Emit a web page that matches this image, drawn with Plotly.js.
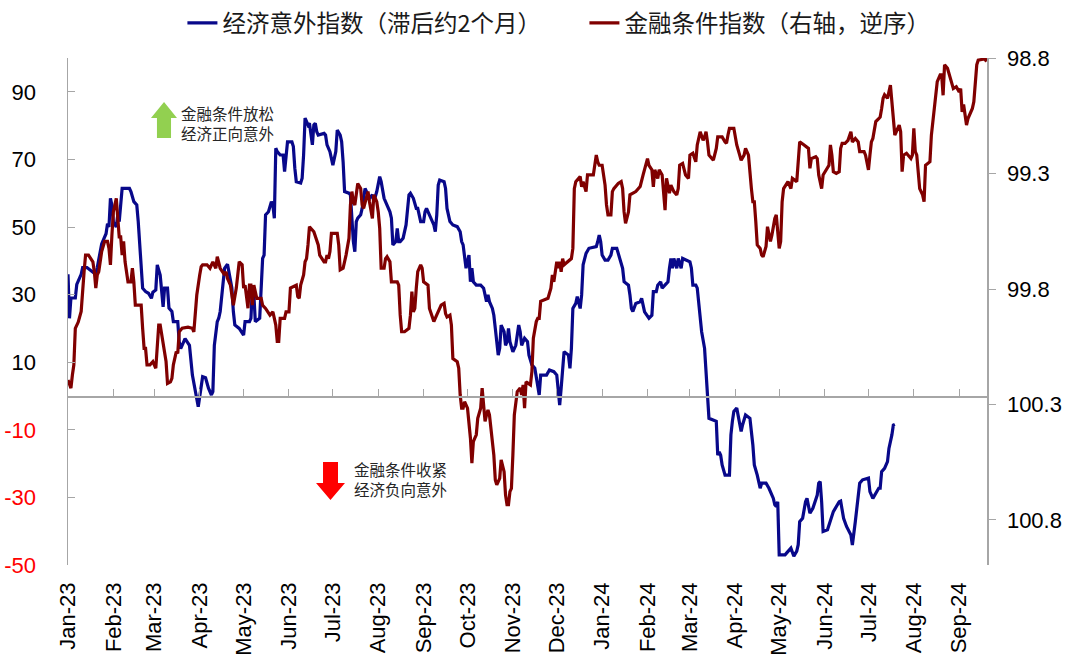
<!DOCTYPE html>
<html>
<head>
<meta charset="utf-8">
<script src="https://cdn.plot.ly/plotly-3.0.1.min.js"></script>
<style>html,body{margin:0;padding:0;background:#fff;}#chart{width:1080px;height:668px;}</style>
</head>
<body>
<div id="chart"></div>
<script>
// 经济意外指数（滞后约2个月） - left axis
const blueDates = [
'2023-01-01','2023-01-02','2023-01-03','2023-01-06','2023-01-07','2023-01-10','2023-01-11','2023-01-14','2023-01-17','2023-01-20','2023-01-21','2023-01-23','2023-01-24','2023-01-27','2023-01-28','2023-01-29','2023-01-30','2023-01-31',
'2023-02-01','2023-02-03','2023-02-04','2023-02-05','2023-02-07','2023-02-12','2023-02-13','2023-02-15','2023-02-17','2023-02-18','2023-02-19','2023-02-21','2023-02-23','2023-02-25','2023-02-27','2023-02-28',
'2023-03-02','2023-03-03','2023-03-05','2023-03-07','2023-03-08','2023-03-10','2023-03-11','2023-03-13','2023-03-14','2023-03-17','2023-03-18','2023-03-19','2023-03-22','2023-03-25','2023-03-27','2023-03-31',
'2023-04-03','2023-04-05','2023-04-07','2023-04-09','2023-04-10','2023-04-11','2023-04-13','2023-04-14','2023-04-15','2023-04-16','2023-04-18','2023-04-20','2023-04-21','2023-04-23','2023-04-24','2023-04-25','2023-04-28',
'2023-05-01','2023-05-02','2023-05-05','2023-05-06','2023-05-07','2023-05-08','2023-05-09','2023-05-12','2023-05-14','2023-05-15','2023-05-16','2023-05-18','2023-05-20','2023-05-21','2023-05-22','2023-05-23','2023-05-24','2023-05-26','2023-05-28','2023-05-29','2023-05-30','2023-05-31',
'2023-06-03','2023-06-04','2023-06-05','2023-06-06','2023-06-09','2023-06-10','2023-06-11','2023-06-12','2023-06-14','2023-06-15','2023-06-17','2023-06-18','2023-06-19','2023-06-20','2023-06-21','2023-06-25','2023-06-26','2023-06-27','2023-06-29','2023-06-30',
'2023-07-01','2023-07-03','2023-07-04','2023-07-06','2023-07-07','2023-07-08','2023-07-09','2023-07-12','2023-07-13','2023-07-14','2023-07-15','2023-07-16','2023-07-17','2023-07-18','2023-07-20','2023-07-21','2023-07-22','2023-07-23','2023-07-25','2023-07-26','2023-07-28','2023-07-29','2023-07-31',
'2023-08-01','2023-08-02','2023-08-03','2023-08-05','2023-08-07','2023-08-09','2023-08-10','2023-08-11','2023-08-13','2023-08-14','2023-08-15','2023-08-16','2023-08-18','2023-08-20','2023-08-22','2023-08-23','2023-08-25','2023-08-27','2023-08-28','2023-08-30',
'2023-09-01','2023-09-02','2023-09-03','2023-09-05','2023-09-07','2023-09-08','2023-09-09','2023-09-10','2023-09-11','2023-09-12','2023-09-15','2023-09-16','2023-09-17','2023-09-18','2023-09-19','2023-09-21','2023-09-24','2023-09-26','2023-09-27','2023-09-28','2023-09-29','2023-09-30',
'2023-10-02','2023-10-03','2023-10-04','2023-10-05','2023-10-07','2023-10-10','2023-10-12','2023-10-14','2023-10-15','2023-10-16','2023-10-18','2023-10-19','2023-10-20','2023-10-21','2023-10-22','2023-10-23','2023-10-24','2023-10-26','2023-10-27','2023-10-28','2023-10-29','2023-10-30',
'2023-11-01','2023-11-03','2023-11-04','2023-11-05','2023-11-06','2023-11-07','2023-11-09','2023-11-11','2023-11-12','2023-11-14','2023-11-16','2023-11-18','2023-11-19','2023-11-20','2023-11-24','2023-11-26','2023-11-29',
'2023-12-01','2023-12-02','2023-12-03','2023-12-04','2023-12-05','2023-12-06','2023-12-09','2023-12-10','2023-12-11','2023-12-12','2023-12-14','2023-12-15','2023-12-17','2023-12-18','2023-12-19','2023-12-21','2023-12-23','2023-12-28','2023-12-29','2023-12-30','2023-12-31',
'2024-01-01','2024-01-03','2024-01-05','2024-01-07','2024-01-08','2024-01-11','2024-01-13','2024-01-14','2024-01-15','2024-01-16','2024-01-19','2024-01-20','2024-01-21','2024-01-22','2024-01-24','2024-01-27','2024-01-28','2024-01-30',
'2024-02-02','2024-02-04','2024-02-05','2024-02-07','2024-02-08','2024-02-10','2024-02-11','2024-02-14','2024-02-15','2024-02-16','2024-02-17','2024-02-18','2024-02-19','2024-02-21','2024-02-22','2024-02-24','2024-02-25',
'2024-03-01','2024-03-02','2024-03-03','2024-03-05','2024-03-06','2024-03-08','2024-03-09','2024-03-11','2024-03-12','2024-03-13','2024-03-14','2024-03-19','2024-03-20','2024-03-21','2024-03-22','2024-03-23','2024-03-25','2024-03-28','2024-03-29','2024-03-30','2024-03-31',
'2024-04-02','2024-04-04','2024-04-05','2024-04-06','2024-04-07','2024-04-08','2024-04-11','2024-04-12','2024-04-13','2024-04-14','2024-04-16','2024-04-18','2024-04-19','2024-04-22','2024-04-24','2024-04-27','2024-04-28','2024-04-29','2024-04-30',
'2024-05-01','2024-05-03','2024-05-05','2024-05-06','2024-05-09','2024-05-11','2024-05-13','2024-05-14','2024-05-15','2024-05-17','2024-05-19','2024-05-20','2024-05-21','2024-05-22','2024-05-24','2024-05-27','2024-05-28','2024-05-29','2024-05-30','2024-05-31',
'2024-06-03','2024-06-05','2024-06-07','2024-06-11','2024-06-12','2024-06-14','2024-06-16','2024-06-19','2024-06-20','2024-06-22','2024-06-24','2024-06-25','2024-06-27',
'2024-07-01','2024-07-02','2024-07-04','2024-07-08','2024-07-09','2024-07-10','2024-07-12','2024-07-14','2024-07-15','2024-07-17','2024-07-18','2024-07-19'
];
const blueValues = [
36,23,29,29,33,36,38,38,37,36,38,42,45,48,51,50,58.5,56.5,
51.5,50,53.6,51.6,61.4,61.4,60.5,57.5,56.5,51.6,45.7,31.9,30.9,30.4,28.9,30.7,
31.4,38.8,35.8,26.4,31.9,31.9,26,25,22,22,16,14,17,15,6.2,-3.2,
5.7,5.4,2.3,0.3,1.3,15,22,23,25,30,37.8,39,36.8,31.9,25,21,20,
18,22,22,23,31.9,30,22,23,40.7,41.7,53.6,54.5,57.5,56.5,52.6,73.3,72.3,71.3,71.3,66.4,70.3,75.2,
75.2,73.8,67.4,63.4,63,64.4,71.3,82.2,80.2,80.7,74.3,80.2,80.7,78.2,77.2,77.7,77.2,74.3,72.3,70.3,
68.3,72.3,78.7,77.2,75.2,69.3,60.5,60,59.5,52.6,45.7,42.7,51.6,52.6,53.6,55.5,59.5,61.4,59.5,58.5,59.5,57.5,60.5,
63.4,64.9,63.4,58.5,56.5,54.5,52.6,44.7,45.7,49.6,45.7,45.7,46.7,50.6,59.5,60,58.5,55.5,55.5,51.6,
51.6,54.5,55.5,53.6,51.6,50.6,48.6,53.6,62.4,63.9,63.4,61.4,55.5,53.6,51.6,50.6,50.1,48.6,45.7,44.7,41.7,37.8,
41.7,33.8,37.8,33.8,32.8,32.8,31.9,27.9,29.9,27.9,25.9,23.9,20,16.1,12.1,14.1,21,19,15,16.1,20,16.1,
13.1,15,18,21,19,15,17.1,16.1,12.1,9.2,8.2,3.3,0.3,6.2,6.2,7.7,7.2,
6.2,2.3,-2.7,2.3,7.2,13.1,12.1,8.2,14.1,25.9,27.4,29.4,25.9,29.9,38.8,42.2,43.7,44.2,45.7,47.6,45.7,
41.7,40.2,40.2,41.7,43.7,43.7,40.7,39.7,37.8,33.8,32.8,29.9,25.9,25,27.4,27.9,28.9,24.9,
23,23.9,30.9,30.9,32.8,33.8,31.9,33.3,33.8,37.8,40.7,37.8,40.7,37.8,40.7,37.8,40.7,
39.7,37.8,32.8,32.8,31.9,22,19,14.1,6.2,2.3,-6.6,-7.5,-17.5,-16.5,-17.5,-20.4,-23.4,-23.4,-11.5,-7.5,-4.6,
-3.6,-7.5,-10.5,-8.5,-6.6,-5.6,-6.6,-10.5,-14.5,-20.4,-23.4,-27.3,-25.8,-25.8,-27.3,-30.3,-32.2,-32.7,-31.3,
-47,-47,-47,-46.5,-45,-47.4,-45.9,-44,-37.2,-36.2,-31.3,-30.3,-32.2,-34.7,-33.2,-29.3,-25.8,-25.3,-31.3,-40.1,
-39.6,-37.2,-34.2,-31.3,-31.1,-36.2,-38.6,-41.1,-44.1,-37.2,-29.3,-25.8,-24.8,
-24.3,-28.3,-30.3,-27.3,-27.3,-22.4,-21.4,-19.4,-15.5,-11.5,-8.6,-8.4
];

// 金融条件指数（右轴，逆序） - right axis, reversed
const redDates = [
'2023-01-01','2023-01-02','2023-01-03','2023-01-04','2023-01-05','2023-01-06','2023-01-08','2023-01-10','2023-01-11','2023-01-12','2023-01-13','2023-01-15','2023-01-18','2023-01-19','2023-01-20','2023-01-21','2023-01-22','2023-01-23','2023-01-24','2023-01-26','2023-01-28','2023-01-29','2023-01-30','2023-01-31',
'2023-02-01','2023-02-03','2023-02-04','2023-02-05','2023-02-06','2023-02-07','2023-02-08','2023-02-09','2023-02-11','2023-02-13','2023-02-14','2023-02-15','2023-02-16','2023-02-20','2023-02-21','2023-02-22','2023-02-23','2023-02-24','2023-02-26','2023-02-28',
'2023-03-02','2023-03-03','2023-03-04','2023-03-05','2023-03-06','2023-03-08','2023-03-09','2023-03-10','2023-03-12','2023-03-13','2023-03-14','2023-03-16','2023-03-17','2023-03-18','2023-03-20','2023-03-24','2023-03-27','2023-03-28','2023-03-29','2023-03-30',
'2023-04-01','2023-04-02','2023-04-03','2023-04-06','2023-04-08','2023-04-10','2023-04-12','2023-04-13','2023-04-15','2023-04-18','2023-04-19','2023-04-20','2023-04-22','2023-04-23','2023-04-24','2023-04-26','2023-04-27','2023-04-28','2023-04-30',
'2023-05-01','2023-05-02','2023-05-04','2023-05-05','2023-05-06','2023-05-07','2023-05-08','2023-05-10','2023-05-13','2023-05-14','2023-05-16','2023-05-19','2023-05-21','2023-05-22','2023-05-23','2023-05-24','2023-05-25','2023-05-26','2023-05-29','2023-05-30',
'2023-06-01','2023-06-02','2023-06-06','2023-06-07','2023-06-08','2023-06-09','2023-06-10','2023-06-11','2023-06-12','2023-06-13','2023-06-14','2023-06-15','2023-06-18','2023-06-20','2023-06-21','2023-06-22','2023-06-25','2023-06-26','2023-06-27','2023-06-28','2023-06-29','2023-06-30',
'2023-07-04','2023-07-05','2023-07-06','2023-07-08','2023-07-10','2023-07-12','2023-07-13','2023-07-14','2023-07-15','2023-07-16','2023-07-17','2023-07-18','2023-07-20','2023-07-21','2023-07-22','2023-07-24','2023-07-25','2023-07-26','2023-07-28','2023-07-29','2023-07-30','2023-07-31',
'2023-08-01','2023-08-02','2023-08-03','2023-08-05','2023-08-06','2023-08-07','2023-08-09','2023-08-10','2023-08-14','2023-08-15','2023-08-16','2023-08-17','2023-08-19','2023-08-22','2023-08-23','2023-08-24','2023-08-25','2023-08-26','2023-08-27','2023-08-28','2023-08-30','2023-08-31',
'2023-09-01','2023-09-04','2023-09-05','2023-09-07','2023-09-08','2023-09-10','2023-09-13','2023-09-15','2023-09-16','2023-09-17','2023-09-19','2023-09-20','2023-09-21','2023-09-24','2023-09-25','2023-09-26','2023-09-27','2023-09-28','2023-09-29',
'2023-10-01','2023-10-02','2023-10-03','2023-10-04','2023-10-05','2023-10-06','2023-10-07','2023-10-08','2023-10-10','2023-10-11','2023-10-12','2023-10-13','2023-10-14','2023-10-15','2023-10-16','2023-10-18','2023-10-19','2023-10-20','2023-10-21','2023-10-23','2023-10-24','2023-10-26','2023-10-27','2023-10-28','2023-10-29','2023-10-30','2023-10-31',
'2023-11-01','2023-11-02','2023-11-04','2023-11-06','2023-11-07','2023-11-08','2023-11-09','2023-11-10','2023-11-13','2023-11-14','2023-11-15','2023-11-17','2023-11-18','2023-11-19','2023-11-20','2023-11-25','2023-11-27','2023-11-28','2023-11-29',
'2023-12-01','2023-12-02','2023-12-03','2023-12-04','2023-12-05','2023-12-06','2023-12-11','2023-12-12','2023-12-13','2023-12-14','2023-12-17','2023-12-18','2023-12-19','2023-12-21','2023-12-22','2023-12-26','2023-12-28','2023-12-29','2023-12-30',
'2024-01-01','2024-01-03','2024-01-04','2024-01-05','2024-01-07','2024-01-08','2024-01-09','2024-01-12','2024-01-14','2024-01-15','2024-01-16','2024-01-17','2024-01-19','2024-01-20','2024-01-24','2024-01-27','2024-01-29','2024-01-30',
'2024-02-01','2024-02-02','2024-02-04','2024-02-05','2024-02-06','2024-02-08','2024-02-09','2024-02-11','2024-02-13','2024-02-14','2024-02-15','2024-02-16','2024-02-17','2024-02-19','2024-02-21','2024-02-22','2024-02-23','2024-02-25','2024-02-27','2024-02-29',
'2024-03-01','2024-03-03','2024-03-05','2024-03-06','2024-03-08','2024-03-10','2024-03-11','2024-03-12','2024-03-13','2024-03-14','2024-03-17','2024-03-19','2024-03-20','2024-03-23','2024-03-25','2024-03-26','2024-03-27','2024-03-28','2024-03-31',
'2024-04-02','2024-04-04','2024-04-05','2024-04-07','2024-04-08','2024-04-10','2024-04-11','2024-04-12','2024-04-13','2024-04-14','2024-04-15','2024-04-16','2024-04-18','2024-04-19','2024-04-20','2024-04-21','2024-04-22','2024-04-23','2024-04-24','2024-04-25','2024-04-26','2024-04-27','2024-04-28','2024-04-29',
'2024-05-01','2024-05-02','2024-05-03','2024-05-04','2024-05-07','2024-05-09','2024-05-10','2024-05-13','2024-05-14','2024-05-15','2024-05-18','2024-05-21','2024-05-22','2024-05-23','2024-05-26','2024-05-27','2024-05-28','2024-05-29','2024-05-30','2024-05-31',
'2024-06-03','2024-06-04','2024-06-05','2024-06-06','2024-06-07','2024-06-09','2024-06-11','2024-06-12','2024-06-13','2024-06-15','2024-06-16','2024-06-17','2024-06-19','2024-06-20','2024-06-22','2024-06-24','2024-06-25','2024-06-28','2024-06-29','2024-06-30',
'2024-07-01','2024-07-02','2024-07-03','2024-07-04','2024-07-06','2024-07-08','2024-07-09','2024-07-10','2024-07-11','2024-07-12','2024-07-14','2024-07-16','2024-07-17','2024-07-18','2024-07-19','2024-07-20','2024-07-22','2024-07-23','2024-07-24','2024-07-25','2024-07-27','2024-07-30','2024-07-31',
'2024-08-01','2024-08-02','2024-08-03','2024-08-04','2024-08-05','2024-08-07','2024-08-08','2024-08-09','2024-08-12','2024-08-13','2024-08-15','2024-08-16','2024-08-17','2024-08-19','2024-08-20','2024-08-21','2024-08-22','2024-08-24','2024-08-26','2024-08-28','2024-08-30',
'2024-09-01','2024-09-02','2024-09-03','2024-09-04','2024-09-05','2024-09-06','2024-09-07','2024-09-10','2024-09-11','2024-09-12','2024-09-13','2024-09-14','2024-09-17','2024-09-18','2024-09-19','2024-09-20'
];
const redValues = [
100.194,100.209,100.229,100.172,100.128,99.970,99.943,99.897,99.796,99.725,99.653,99.653,99.682,99.725,99.796,99.739,99.725,99.682,99.638,99.594,99.594,99.624,99.695,99.567,
99.466,99.407,99.508,99.574,99.574,99.653,99.594,99.682,99.769,99.769,99.710,99.769,99.870,99.870,99.970,100.057,100.057,100.128,100.128,100.114,
100.143,100.042,99.956,99.956,100.000,100.086,100.114,100.209,100.202,100.187,100.128,100.071,100.079,99.985,99.970,99.965,99.970,99.985,99.913,99.826,
99.739,99.703,99.695,99.695,99.710,99.682,99.710,99.660,99.710,99.739,99.725,99.754,99.783,99.826,99.870,99.796,99.739,99.682,99.695,
99.796,99.783,99.883,99.783,99.783,99.870,99.783,99.840,99.840,99.870,99.884,99.913,99.899,99.927,99.956,100.027,100.027,99.927,99.927,99.899,
99.899,99.796,99.783,99.833,99.840,99.783,99.754,99.739,99.682,99.668,99.609,99.530,99.552,99.594,99.609,99.653,99.682,99.682,99.653,99.668,99.638,99.559,
99.559,99.609,99.717,99.710,99.653,99.580,99.436,99.378,99.422,99.436,99.392,99.343,99.365,99.436,99.451,99.407,99.378,99.422,99.494,99.392,99.407,99.422,
99.466,99.537,99.710,99.710,99.668,99.660,99.682,99.769,99.769,99.783,99.912,99.985,99.985,99.970,99.913,99.811,99.899,99.884,99.796,99.725,99.695,99.710,
99.769,99.783,99.884,99.927,99.941,99.912,99.870,99.862,99.906,99.921,99.913,99.956,100.101,100.115,100.143,100.259,100.316,100.316,100.288,
100.316,100.373,100.446,100.554,100.461,100.446,100.431,100.360,100.316,100.229,100.316,100.373,100.345,100.323,100.345,100.461,100.519,100.627,100.648,100.620,100.540,100.591,100.692,100.734,100.734,100.677,100.663,
100.519,100.345,100.244,100.229,100.259,100.215,100.316,100.202,100.215,100.158,100.013,99.941,99.927,99.927,99.853,99.840,99.796,99.739,99.769,
99.682,99.710,99.682,99.725,99.668,99.695,99.668,99.624,99.365,99.335,99.313,99.357,99.335,99.378,99.306,99.306,99.220,99.249,99.264,
99.264,99.350,99.436,99.479,99.479,99.378,99.365,99.343,99.335,99.365,99.466,99.515,99.466,99.392,99.378,99.356,99.306,99.284,
99.235,99.264,99.284,99.357,99.284,99.321,99.284,99.306,99.458,99.321,99.350,99.385,99.350,99.378,99.392,99.365,99.264,99.256,99.306,99.321,
99.220,99.212,99.249,99.176,99.119,99.156,99.141,99.119,99.163,99.220,99.242,99.191,99.141,99.141,99.163,99.169,99.133,99.104,99.104,
99.176,99.220,99.242,99.220,99.191,99.220,99.306,99.365,99.422,99.422,99.508,99.609,99.624,99.653,99.660,99.638,99.616,99.530,99.567,99.594,99.567,99.523,99.494,99.479,
99.624,99.594,99.422,99.365,99.335,99.365,99.321,99.335,99.220,99.163,99.176,99.191,99.277,99.235,99.227,99.235,99.306,99.335,99.365,99.306,
99.277,99.264,99.176,99.220,99.292,99.299,99.292,99.191,99.169,99.169,99.163,99.156,99.119,99.163,99.148,99.163,99.205,99.205,99.220,99.249,
99.284,99.220,99.163,99.148,99.075,99.062,99.055,99.018,98.974,98.959,98.974,98.917,98.989,99.047,99.133,99.119,99.090,99.119,99.292,99.220,99.212,99.235,99.220,
99.104,99.205,99.220,99.292,99.365,99.392,99.422,99.264,99.249,99.133,99.018,98.946,98.902,98.873,98.873,98.961,98.829,98.844,98.888,98.932,98.924,
98.946,98.932,99.033,99.001,99.047,99.090,99.062,99.018,98.989,98.917,98.829,98.809,98.804,98.804,98.809,98.801
];

const seriesNames = ['经济意外指数（滞后约2个月）', '金融条件指数（右轴，逆序）'];
const leftTickVals = [-50, -30, -10, 10, 30, 50, 70, 90];
const rightTickVals = [98.8, 99.3, 99.8, 100.3, 100.8];
const xRange = ['2023-01-01', '2024-09-20'];
const noteUp = ['金融条件放松', '经济正向意外'];
const noteDown = ['金融条件收紧', '经济负向意外'];

const FONT = '"Liberation Sans", Arial, "Noto Sans CJK SC", sans-serif';
const CJK = '"Noto Sans CJK SC", "Liberation Sans", sans-serif';
const AXIS = '#A6A6A6';

const leftTickText = leftTickVals.map(v => v < 0 ? '<span style="color:#FF0000">' + v + '</span>' : String(v));

const traces = [
  {x: blueDates, y: blueValues, name: seriesNames[0], type: 'scatter', mode: 'lines',
   xaxis: 'x', yaxis: 'y', line: {color: '#08088A', width: 3.2}},
  {x: redDates, y: redValues, name: seriesNames[1], type: 'scatter', mode: 'lines',
   xaxis: 'x2', yaxis: 'y2', line: {color: '#800000', width: 3.2}}
];

const layout = {
  width: 1080, height: 668,
  margin: {l: 68, r: 93, t: 58, b: 103, autoexpand: false},
  paper_bgcolor: '#fff', plot_bgcolor: '#fff',
  font: {family: FONT, size: 22, color: '#000'},
  showlegend: true,
  legend: {orientation: 'h', x: 0.1245, xanchor: 'left', y: 1.069, yanchor: 'middle',
           font: {family: CJK, size: 23.5, color: '#1a1a1a'}, itemwidth: 30,
           entrywidth: 357, entrywidthmode: 'pixels', bgcolor: 'rgba(0,0,0,0)'},
  xaxis: {type: 'date', range: xRange, anchor: 'free', position: 1/3,
          showline: true, linecolor: AXIS, linewidth: 1.5,
          ticks: 'inside', ticklen: 7, tickcolor: AXIS, tickwidth: 1,
          tick0: '2023-01-01', dtick: 'M1', showticklabels: false,
          showgrid: false, zeroline: false},
  xaxis2: {type: 'date', range: xRange, overlaying: 'x', anchor: 'y', side: 'bottom',
           showline: false, ticks: '', tick0: '2023-01-01', dtick: 'M1',
           tickformat: '%b-%y', tickangle: -90, ticklabelstandoff: 12,
           tickfont: {family: FONT, size: 22, color: '#000'},
           showgrid: false, zeroline: false},
  yaxis: {range: [-50, 100], tickmode: 'array', tickvals: leftTickVals, ticktext: leftTickText,
          ticks: 'inside', ticklen: 7, tickcolor: AXIS, tickwidth: 1,
          showline: true, linecolor: AXIS, linewidth: 1.5,
          showgrid: false, zeroline: false, ticklabelstandoff: 26,
          tickfont: {family: FONT, size: 22, color: '#000'}},
  yaxis2: {range: [100.995, 98.7995], overlaying: 'y', side: 'right', anchor: 'x2',
           tickmode: 'array', tickvals: rightTickVals, ticktext: rightTickVals.map(v => v.toFixed(1)),
           ticks: 'outside', ticklen: 7, tickcolor: AXIS, tickwidth: 1,
           showline: true, linecolor: AXIS, linewidth: 1.5,
           showgrid: false, zeroline: false, ticklabelstandoff: 7,
           tickfont: {family: FONT, size: 22, color: '#000'}},
  shapes: [
    {type: 'path', xref: 'paper', yref: 'paper', fillcolor: '#92D050', line: {width: 0},
     path: 'M 0.1045 0.9132 L 0.0903 0.8817 L 0.0968 0.8817 L 0.0968 0.8422 L 0.1121 0.8422 L 0.1121 0.8817 L 0.1186 0.8817 Z'},
    {type: 'path', xref: 'paper', yref: 'paper', fillcolor: '#FF0000', line: {width: 0},
     path: 'M 0.2856 0.1282 L 0.2699 0.1617 L 0.2775 0.1617 L 0.2775 0.2032 L 0.2938 0.2032 L 0.2938 0.1617 L 0.3014 0.1617 Z'}
  ],
  annotations: [
    {xref: 'paper', yref: 'paper', x: 0.1208, y: 0.8727, xanchor: 'left', yanchor: 'middle', showarrow: false,
     align: 'left', text: noteUp.join('<br>'), font: {family: CJK, size: 15.5, color: '#262626'}},
    {xref: 'paper', yref: 'paper', x: 0.309, y: 0.1706, xanchor: 'left', yanchor: 'middle', showarrow: false,
     align: 'left', text: noteDown.join('<br>'), font: {family: CJK, size: 15.5, color: '#262626'}}
  ]
};

Plotly.newPlot('chart', traces, layout, {displayModeBar: false, staticPlot: true});
</script>
</body>
</html>
